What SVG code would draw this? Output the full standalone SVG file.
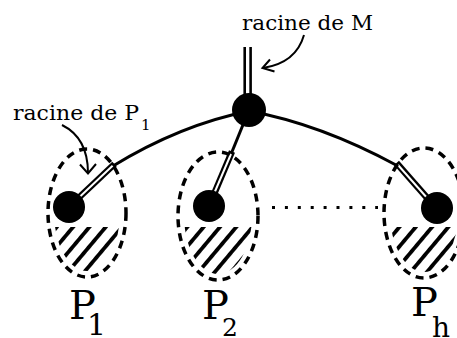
<svg xmlns="http://www.w3.org/2000/svg" width="457" height="338" viewBox="0 0 457 338">
<style>
text{font-family:"DejaVu Serif",serif;fill:#000}
.node{fill:#000}
.ell{fill:none;stroke:#000;stroke-width:3.5;stroke-dasharray:8 6}
.curve{fill:none;stroke:#000;stroke-width:3}
.bandO{stroke:#000;stroke-width:6.5;stroke-linecap:butt}
.bandI{stroke:#fff;stroke-width:2;stroke-linecap:butt}
.arr{fill:none;stroke:#000;stroke-width:2}
.hatch{fill:url(#hp)}
</style>
<defs>
<pattern id="hp" patternUnits="userSpaceOnUse" width="12.5" height="20" patternTransform="rotate(40)">
<rect x="0" y="0" width="3.8" height="20" fill="#000"/>
</pattern>
<clipPath id="c1"><ellipse cx="87" cy="213" rx="33" ry="58"/></clipPath>
<clipPath id="c2"><ellipse cx="218" cy="216" rx="34" ry="58"/></clipPath>
<clipPath id="c3"><ellipse cx="424" cy="213" rx="34" ry="59"/></clipPath>
</defs>
<g id="connectors">
<path class="curve" d="M113,166 Q180,125 249,111 Q320,124 396,165"/>
<line class="curve" x1="249" y1="110" x2="231.5" y2="153"/>
<line x1="244.7" y1="47" x2="244.7" y2="96" stroke="#000" stroke-width="2.6"/>
<line x1="250.6" y1="47" x2="250.6" y2="96" stroke="#000" stroke-width="2.6"/>
<line class="bandO" x1="70" y1="206" x2="114.5" y2="164"/>
<line class="bandI" x1="74" y1="202.2" x2="112.6" y2="165.8"/>
<line class="bandO" x1="209" y1="206" x2="232" y2="151.5"/>
<line class="bandI" x1="210.5" y1="202" x2="231" y2="154"/>
<line class="bandO" x1="436" y1="208" x2="396.5" y2="163"/>
<line class="bandI" x1="432" y1="203.5" x2="398" y2="165"/>
<line x1="272" y1="207.5" x2="378" y2="207.5" stroke="#000" stroke-width="3" stroke-dasharray="3 9.9"/>
</g>
<g id="arrows">
<path class="arr" d="M304,35 Q296,63 263,68"/>
<path class="arr" d="M270,59.5 L262.5,68 L274.5,71.5"/>
<path class="arr" d="M62,125 Q88,138 88,173"/>
<path class="arr" d="M80,164.5 L88,173.5 L96,164"/>
</g>
<g id="P1">
<ellipse class="ell" cx="87" cy="213" rx="39" ry="64"/>
<rect class="hatch" x="40" y="227" width="100" height="60" clip-path="url(#c1)"/>
<circle class="node" cx="69" cy="207" r="16"/>
</g>
<g id="P2">
<ellipse class="ell" cx="218" cy="216" rx="40" ry="64"/>
<rect class="hatch" x="170" y="227" width="100" height="60" clip-path="url(#c2)"/>
<circle class="node" cx="209" cy="206" r="16"/>
</g>
<g id="Ph">
<ellipse class="ell" cx="424" cy="213" rx="40" ry="65"/>
<rect class="hatch" x="375" y="227" width="90" height="60" clip-path="url(#c3)"/>
<circle class="node" cx="437" cy="208" r="16"/>
</g>
<g id="M">
<circle class="node" cx="249" cy="110" r="17"/>
</g>
<g id="labels">
<text x="242" y="30" font-size="20" textLength="131" lengthAdjust="spacingAndGlyphs">racine de M</text>
<text x="13" y="120" font-size="20" textLength="126" lengthAdjust="spacingAndGlyphs">racine de P</text>
<text x="141" y="130" font-size="15">1</text>
<text x="69" y="319" font-size="40">P</text>
<text x="87" y="335" font-size="30">1</text>
<text x="202" y="319" font-size="40">P</text>
<text x="222" y="336" font-size="25">2</text>
<text x="411" y="316" font-size="40">P</text>
<text x="432" y="337" font-size="28">h</text>
</g>
</svg>
